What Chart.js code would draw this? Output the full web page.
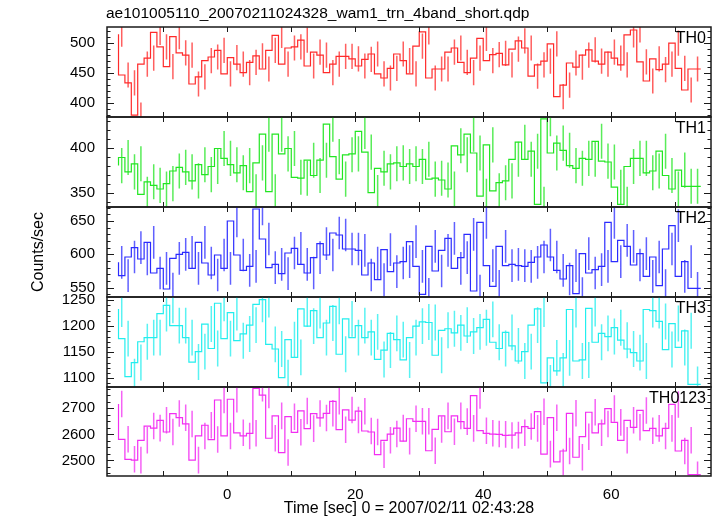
<!DOCTYPE html>
<html lang="en">
<head>
<meta charset="UTF-8">
<title>wam1 4band light curve</title>
<script src="https://cdn.jsdelivr.net/npm/chart.js"></script>
<style>
  html, body { margin: 0; padding: 0; background: #fff; }
  #wrap { position: relative; width: 717px; height: 516px; background: #fff; }
  #wrap canvas { position: absolute; left: 0; top: 0; }
</style>
</head>
<body>
<div id="wrap">
  <canvas id="p0" width="717" height="516"></canvas>
  <canvas id="p1" width="717" height="516"></canvas>
  <canvas id="p2" width="717" height="516"></canvas>
  <canvas id="p3" width="717" height="516"></canvas>
  <canvas id="p4" width="717" height="516"></canvas>
</div>
<script>
// texts
const fileTitle = 'ae101005110_20070211024328_wam1_trn_4band_short.qdp';
const xTitle = 'Time [sec] 0 = 2007/02/11 02:43:28';
const yTitle = 'Counts/sec';
const panelNames = ['TH0', 'TH1', 'TH2', 'TH3', 'TH0123'];

// time bins: 1 s wide, first bin starts at -17 s
const binStart = -17;
const binWidth = 1;
const xTickLabels = [0, 20, 40, 60];

// count rates per bin
const th0 = [514, 446, 433, 379, 464, 474, 517, 493, 460, 510, 483, 479, 431, 443, 470, 476, 487, 448, 475, 464,
  450, 467, 478, 456, 487, 512, 464, 491, 493, 504, 461, 484, 479, 450, 464, 477, 477, 473, 461, 472,
  481, 448, 441, 457, 481, 470, 448, 494, 518, 441, 456, 456, 484, 491, 467, 450, 474, 507, 470, 480,
  482, 463, 489, 503, 491, 444, 463, 469, 498, 410, 429, 466, 459, 479, 488, 469, 464, 484, 474, 463,
  513, 521, 468, 436, 473, 455, 464, 499, 457, 421, 456];
const th1 = [380, 389, 373, 382, 348, 362, 358, 354, 360, 374, 378, 373, 363, 381, 370, 379, 399, 388, 381, 372,
  380, 351, 383, 415, 351, 415, 393, 399, 367, 366, 386, 369, 386, 426, 390, 365, 392, 393, 418, 395,
  350, 377, 373, 382, 383, 379, 382, 379, 387, 365, 366, 364, 354, 402, 392, 415, 394, 346, 403, 352,
  361, 363, 387, 406, 387, 396, 337, 432, 394, 405, 397, 380, 377, 388, 387, 407, 385, 384, 356, 337,
  379, 388, 388, 372, 374, 396, 369, 354, 375, 357, 357];
const th2 = [588, 568, 596, 610, 593, 618, 572, 579, 548, 594, 600, 603, 579, 618, 587, 569, 599, 579, 650, 599,
  576, 582, 668, 623, 580, 585, 571, 602, 609, 585, 572, 595, 616, 599, 632, 629, 608, 608, 606, 569,
  587, 562, 607, 574, 587, 589, 619, 582, 540, 612, 575, 606, 624, 579, 595, 630, 545, 648, 583, 552,
  612, 583, 585, 583, 582, 588, 596, 614, 596, 576, 563, 583, 541, 601, 572, 577, 582, 648, 589, 621,
  612, 584, 601, 567, 596, 553, 608, 643, 567, 589, 549];
const th3 = [1233, 1176, 1103, 1130, 1170, 1178, 1178, 1224, 1240, 1201, 1201, 1178, 1131, 1151, 1204, 1157, 1244, 1176, 1226, 1172,
  1185, 1202, 1242, 1251, 1165, 1156, 1101, 1174, 1140, 1233, 1200, 1230, 1178, 1206, 1238, 1146, 1214, 1178, 1201, 1178,
  1189, 1136, 1154, 1186, 1174, 1135, 1178, 1200, 1208, 1207, 1144, 1192, 1195, 1187, 1202, 1181, 1189, 1197, 1213, 1169,
  1157, 1188, 1162, 1133, 1151, 1202, 1233, 1091, 1139, 1114, 1139, 1232, 1133, 1135, 1234, 1169, 1186, 1180, 1197, 1173,
  1156, 1149, 1133, 1232, 1230, 1209, 1155, 1205, 1159, 1191, 1088];
const th0123 = [2717, 2581, 2504, 2501, 2577, 2632, 2624, 2654, 2609, 2680, 2664, 2640, 2501, 2594, 2635, 2580, 2732, 2594, 2735, 2606,
  2594, 2604, 2777, 2751, 2585, 2671, 2530, 2668, 2608, 2690, 2622, 2680, 2663, 2681, 2727, 2618, 2694, 2655, 2689, 2613,
  2609, 2522, 2577, 2601, 2624, 2574, 2660, 2650, 2650, 2537, 2619, 2671, 2610, 2671, 2649, 2623, 2749, 2614, 2604, 2601,
  2600, 2596, 2597, 2606, 2630, 2623, 2687, 2524, 2664, 2494, 2536, 2681, 2512, 2591, 2685, 2606, 2640, 2699, 2646, 2577,
  2654, 2627, 2692, 2614, 2623, 2594, 2623, 2715, 2536, 2577, 2445];
const seriesValues = [th0, th1, th2, th3, th0123];

// labelled y ticks of each panel
const yTickLabels = [
  [400, 450, 500],
  [350, 400],
  [550, 600, 650],
  [1100, 1150, 1200, 1250],
  [2500, 2600, 2700]
];

// half length of the error bars in each panel (counts/sec)
const errHalf = [21, 19.5, 24.5, 34.5, 51];

// axis ranges and minor tick steps
const xMin = -18.8, xMax = 75.6;
const yRanges = [[376, 526], [334, 434], [536, 671], [1083, 1256], [2440, 2782]];
const yMinorStep = [10, 10, 10, 10, 25];

// page layout
const W = 717, H = 516;
const plotLeft = 107, plotRight = 711;
const panelTops = [27, 117, 207, 297, 387];
const panelBottoms = [117, 207, 297, 387, 476];
const colors = ['#ff2a2a', '#22e622', '#2b2bff', '#22eeee', '#f22ef2'];
const fontFamily = "'Liberation Sans', Arial, Helvetica, sans-serif";

function stepData(vals) {
  const pts = vals.map((v, i) => ({ x: binStart + i * binWidth, y: v }));
  pts.push({ x: binStart + vals.length * binWidth, y: vals[vals.length - 1] });
  return pts;
}

function errorData(vals, e) {
  const pts = [];
  vals.forEach((v, i) => {
    const c = binStart + (i + 0.5) * binWidth;
    pts.push({ x: c, y: v - e }, { x: c, y: v + e }, { x: c, y: null });
  });
  return pts;
}

function hexAlpha(hex, a) {
  const n = parseInt(hex.slice(1), 16);
  return `rgba(${(n >> 16) & 255}, ${(n >> 8) & 255}, ${n & 255}, ${a})`;
}

// frame, inward ticks and panel labels
const framePlugin = {
  id: 'frame',
  afterDraw(chart, args, opts) {
    const ctx = chart.ctx;
    const a = chart.chartArea;
    const xs = chart.scales.x, ys = chart.scales.y;
    const k = opts.index;
    ctx.save();
    ctx.strokeStyle = '#1a1a1a';
    ctx.lineWidth = 1;
    // x ticks every 10 s, top and bottom
    for (let t = Math.ceil(xMin / 10) * 10; t <= xMax; t += 10) {
      const px = Math.round(xs.getPixelForValue(t)) + 0.5;
      ctx.beginPath();
      ctx.moveTo(px, a.top); ctx.lineTo(px, a.top + 5);
      ctx.moveTo(px, a.bottom); ctx.lineTo(px, a.bottom - 5);
      ctx.stroke();
    }
    // y ticks, left and right
    const [lo, hi] = yRanges[k];
    const labelled = yTickLabels[k];
    for (let v = Math.ceil(lo / yMinorStep[k]) * yMinorStep[k]; v <= hi; v += yMinorStep[k]) {
      const len = labelled.includes(v) ? 7 : 3.5;
      const py = Math.round(ys.getPixelForValue(v)) + 0.5;
      ctx.beginPath();
      ctx.moveTo(a.left, py); ctx.lineTo(a.left + len, py);
      ctx.moveTo(a.right, py); ctx.lineTo(a.right - len, py);
      ctx.stroke();
    }
    ctx.lineWidth = 1.5;
    ctx.strokeRect(a.left, a.top, a.right - a.left, a.bottom - a.top);

    ctx.fillStyle = '#000';
    ctx.font = '16px ' + fontFamily;
    ctx.textAlign = 'right';
    ctx.textBaseline = 'alphabetic';
    ctx.fillText(panelNames[k], a.right - 5, a.top + 16);
    if (k === 0) {
      ctx.textAlign = 'left';
      ctx.font = '15.5px ' + fontFamily;
      ctx.fillText(fileTitle, 106, 18);
    }
    ctx.restore();
  }
};

const tickFont = { family: fontFamily, size: 15 };
const plainNumber = v => String(v);
const fixedTicks = list => s => { s.ticks = list.map(v => ({ value: v })); };

seriesValues.forEach((vals, k) => {
  const last = k === seriesValues.length - 1;
  new Chart(document.getElementById('p' + k), {
    type: 'line',
    data: {
      datasets: [
        {
          data: stepData(vals),
          stepped: 'after',
          borderColor: colors[k],
          borderWidth: 1.2,
          pointRadius: 0,
          fill: false
        },
        {
          data: errorData(vals, errHalf[k]),
          borderColor: hexAlpha(colors[k], 0.75),
          borderWidth: 1.5,
          pointRadius: 0,
          spanGaps: false,
          fill: false
        }
      ]
    },
    options: {
      responsive: false,
      animation: false,
      devicePixelRatio: 1,
      events: [],
      layout: {
        padding: { left: 0, right: W - plotRight, top: panelTops[k], bottom: 0 }
      },
      plugins: {
        legend: { display: false },
        tooltip: { enabled: false },
        frame: { index: k }
      },
      scales: {
        x: {
          type: 'linear',
          min: xMin,
          max: xMax,
          display: last,
          afterBuildTicks: fixedTicks(xTickLabels),
          afterFit: s => { s.height = H - panelBottoms[k]; },
          grid: { display: false, drawTicks: false },
          border: { display: false },
          ticks: { padding: 10, color: '#000', font: tickFont, maxRotation: 0, callback: plainNumber },
          title: { display: true, text: xTitle, color: '#000', font: { family: fontFamily, size: 16 }, padding: { top: 0, bottom: -2 } }
        },
        y: {
          type: 'linear',
          min: yRanges[k][0],
          max: yRanges[k][1],
          afterBuildTicks: fixedTicks(yTickLabels[k]),
          afterFit: s => { s.width = plotLeft; },
          grid: { display: false, drawTicks: false },
          border: { display: false },
          ticks: { padding: 12, color: '#000', font: tickFont, callback: plainNumber },
          title: { display: k === 2, text: yTitle, color: '#000', font: { family: fontFamily, size: 16 }, padding: { top: 29, bottom: 0 } }
        }
      }
    },
    plugins: [framePlugin]
  });
});
</script>
</body>
</html>
